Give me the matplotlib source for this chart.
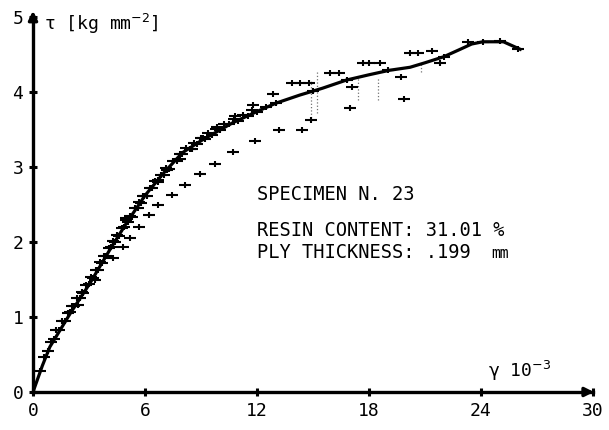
import matplotlib.pyplot as plt
from matplotlib.path import Path

# smooth fitted curve (gamma in 10^-3, tau in kg/mm^2)
gamma_fit = [0, 0.5, 0.9, 2.0, 3.05, 4.1, 5.0, 6.0, 7.0, 8.0, 9.0, 10.7, 12.0,
             13.0, 14.3, 15.5, 16.8, 18.0, 19.1, 20.2, 21.0, 22.0, 22.8, 23.5,
             24.1, 25.2, 26.1]
tau_fit = [0, 0.35, 0.6, 1.05, 1.45, 1.89, 2.25, 2.62, 2.92, 3.19, 3.35, 3.59,
           3.74, 3.85, 3.96, 4.05, 4.16, 4.23, 4.29, 4.33, 4.39, 4.47, 4.56,
           4.64, 4.67, 4.67, 4.57]

# measured points lying on the curve
gamma_main = [0.4, 0.8, 1.1, 1.4, 1.7, 2.0, 2.2, 2.5, 2.7, 3.0, 3.2, 3.5, 3.7,
              3.9, 4.2, 4.4, 4.6, 4.9, 5.1, 5.3, 5.6, 5.8, 6.1, 6.4, 6.7, 7.0,
              7.3, 7.7, 8.0, 8.4, 8.8, 9.2, 9.6, 10.0, 10.5, 11.0, 11.5, 12.0,
              12.5, 13.0, 15.0, 16.8, 19.0, 22.0, 23.3, 24.1, 25.0, 26.0]
tau_main = [0.28, 0.55, 0.70, 0.83, 0.95, 1.06, 1.14, 1.25, 1.32, 1.44, 1.52,
            1.63, 1.72, 1.81, 1.93, 2.00, 2.08, 2.20, 2.27, 2.34, 2.45, 2.52,
            2.62, 2.72, 2.80, 2.90, 2.98, 3.08, 3.17, 3.24, 3.31, 3.37, 3.43,
            3.50, 3.57, 3.62, 3.68, 3.74, 3.80, 3.85, 4.02, 4.16, 4.30, 4.47,
            4.67, 4.67, 4.68, 4.57]

# second column of points hugging the curve
gamma_mid = [0.6, 0.95, 1.25, 1.55, 1.85, 2.1, 2.35, 2.6, 2.85, 3.1, 3.35,
             3.6, 3.8, 4.05, 4.3, 4.5, 4.75, 5.0, 5.2, 5.45, 5.7, 5.95, 6.25,
             6.55, 6.85, 7.15, 7.5, 7.85, 8.2, 8.6, 9.0, 9.4, 9.8, 10.25,
             10.75, 11.25, 11.75]
tau_mid = [0.47, 0.67, 0.82, 0.94, 1.05, 1.15, 1.25, 1.33, 1.43, 1.53, 1.63,
           1.73, 1.81, 1.92, 2.02, 2.09, 2.19, 2.29, 2.35, 2.45, 2.53, 2.62,
           2.72, 2.81, 2.90, 2.99, 3.08, 3.17, 3.25, 3.32, 3.39, 3.45, 3.51,
           3.58, 3.64, 3.70, 3.76]

# points just below the curve
gamma_low = [2.4, 3.3, 4.3, 4.8, 5.2, 5.7, 6.2, 6.7, 7.45, 8.14, 8.95, 9.75,
             10.7, 11.9, 13.2]
tau_low = [1.16, 1.50, 1.79, 1.93, 2.05, 2.20, 2.36, 2.49, 2.63, 2.76, 2.91,
           3.04, 3.20, 3.35, 3.49]

# points just above the curve
gamma_up = [5.0, 5.9, 6.7, 7.2, 7.9, 8.5, 9.1, 9.85, 10.8, 11.8, 12.86]
tau_up = [2.32, 2.62, 2.83, 2.96, 3.11, 3.24, 3.39, 3.53, 3.68, 3.83, 3.97]

# scattered points at large strain
gamma_sc = [13.9, 14.3, 14.8, 14.9, 15.9, 16.4, 17.0, 17.1, 17.7, 18.0, 18.6,
            19.7, 19.9, 20.2, 20.6, 21.4, 21.8, 14.4]
tau_sc = [4.12, 4.12, 4.12, 3.63, 4.25, 4.25, 3.79, 4.07, 4.39, 4.39, 4.39,
          4.20, 3.91, 4.52, 4.52, 4.55, 4.39, 3.50]

# faint dotted scatter bars
gamma_bar = [14.9, 15.2, 17.4, 18.5, 20.8]
tau_bar_lo = [3.62, 3.72, 3.90, 3.90, 4.27]
tau_bar_hi = [4.15, 4.27, 4.19, 4.19, 4.40]

cross = Path([(-1, 0), (1, 0), (0, -0.55), (0, 0.55)],
             [Path.MOVETO, Path.LINETO, Path.MOVETO, Path.LINETO])

mono = "DejaVu Sans Mono"

fig = plt.figure(figsize=(6.09, 4.30), dpi=100)
ax = fig.add_axes([0.0542, 0.0884, 0.9195, 0.872])

ax.vlines(gamma_bar, tau_bar_lo, tau_bar_hi, colors="0.45", linestyles=":",
          linewidth=0.9)
for g, t in [(gamma_main, tau_main), (gamma_mid, tau_mid),
             (gamma_low, tau_low), (gamma_up, tau_up), (gamma_sc, tau_sc)]:
    ax.plot(g, t, linestyle="none", marker=cross, markersize=9,
            markeredgewidth=1.5, color="black")
ax.plot(gamma_fit, tau_fit, color="black", linewidth=2.3)

ax.set_xlim(0, 30)
ax.set_ylim(0, 5)
ax.set_xticks(range(0, 31, 6))
ax.set_yticks(range(0, 6))
for s in ["top", "right"]:
    ax.spines[s].set_visible(False)
for s in ["left", "bottom"]:
    ax.spines[s].set_linewidth(2.4)
ax.tick_params(direction="inout", length=6, width=2.2, labelsize=13,
               pad=4)
for lab in ax.get_xticklabels() + ax.get_yticklabels():
    lab.set_family(mono)

# arrow heads on the axes
ax.annotate("", xy=(0, 5.12), xytext=(0, 4.9), annotation_clip=False,
            arrowprops=dict(arrowstyle="-|>", color="black", lw=2.4,
                            mutation_scale=13))
ax.annotate("", xy=(30.2, 0), xytext=(29.5, 0), annotation_clip=False,
            arrowprops=dict(arrowstyle="-|>", color="black", lw=2.4,
                            mutation_scale=13))

ax.text(0.6, 4.83, r"τ [kg mm$^{-2}$]", family=mono, fontsize=13)
ax.text(24.4, 0.2, r"γ 10$^{-3}$", family=mono, fontsize=13)

ax.text(12.0, 2.56, "SPECIMEN N. 23", family=mono, fontsize=13.5)
ax.text(12.0, 2.08, "RESIN CONTENT: 31.01 %", family=mono, fontsize=13.5)
ax.text(12.0, 1.79, "PLY THICKNESS: .199", family=mono, fontsize=13.5)
ax.text(24.55, 1.79, "mm", family=mono, fontsize=10.5)

fig.savefig("out.png", dpi=100)
